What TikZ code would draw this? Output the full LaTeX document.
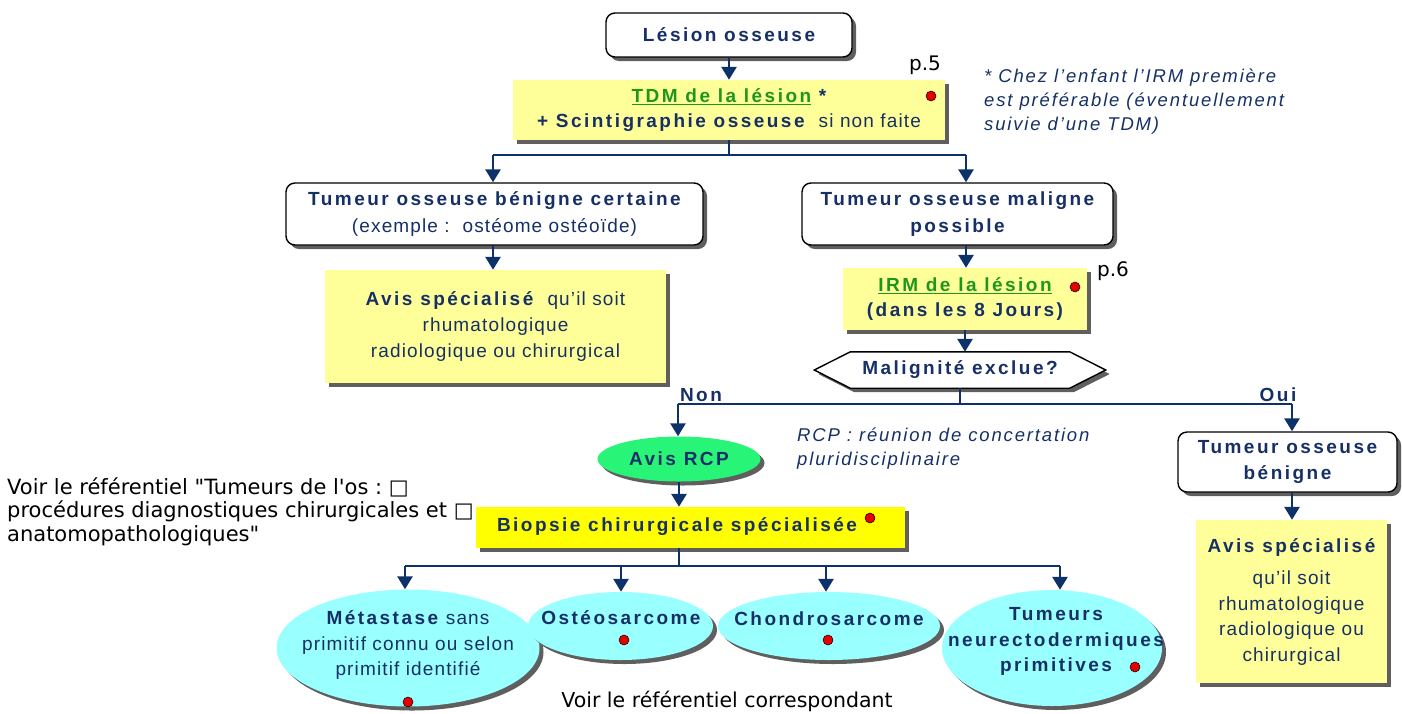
\documentclass[tikz,border=0pt]{standalone}
\usepackage{fontspec}
\setmainfont{Liberation Sans}
\newfontfamily\af[LetterSpace=6,BoldFeatures={LetterSpace=13}]{Liberation Sans}
\newfontfamily\vf[Ligatures=TeXOff]{DejaVu Sans}
\usetikzlibrary{arrows.meta,shadows,shapes.geometric}
\pgfdeclarelayer{bg}
\pgfsetlayers{bg,main}
\definecolor{navy}{RGB}{22,48,102}
\definecolor{linec}{RGB}{12,50,105}
\definecolor{dgreen}{RGB}{30,150,30}
\definecolor{pyellow}{RGB}{255,255,153}
\definecolor{byellow}{RGB}{255,255,0}
\definecolor{cyanf}{RGB}{153,255,255}
\definecolor{rgreen}{RGB}{40,245,120}
\definecolor{shadowc}{RGB}{95,95,95}
\definecolor{dotred}{RGB}{230,0,0}
\newcommand\fs{\fontsize{19}{25.5}\selectfont}
\begin{document}
\begin{tikzpicture}[x=1pt,y=-1pt,
  shadowed/.style={general shadow={fill=shadowc, shadow xshift=4pt, shadow yshift=-4pt}},
  txt/.style={font=\af\fs, text=navy, align=center, inner sep=0pt},
  bt/.style={font=\af\bfseries\fs, text=navy, align=center, inner sep=0pt},
  rbox/.style={draw=black, line width=1.4pt, rounded corners=9pt, fill=white, shadowed},
  ybox/.style={fill=pyellow, shadowed},
  ell/.style={ellipse, fill=cyanf, shadowed, inner sep=0pt},
  arr/.style={draw=linec, line width=2.8pt, -{Triangle[width=15pt,length=13pt]}},
  ln/.style={draw=linec, line width=2.8pt},
  rdot/.style={circle, fill=dotred, draw=black, line width=0.5pt, minimum size=10pt, inner sep=0pt},
  pnum/.style={font=\vf\fontsize{20}{22}\selectfont, text=black, inner sep=0pt},
  note/.style={font=\af\itshape\fontsize{18.5}{24}\selectfont\addfontfeature{LetterSpace=10}, text=navy, align=left, inner sep=0pt},
  vtext/.style={font=\vf\fontsize{20.5}{23.5}\selectfont, text=black, inner sep=0pt}
]
\useasboundingbox (0,0) rectangle (1402,713);

% top
\node[rbox, minimum width=246pt, minimum height=44pt, bt] (lesion) at (729,35) {Lésion osseuse};
\node[ybox, minimum width=432pt, minimum height=60pt, bt] (tdm) at (729,110)
  {\textcolor{dgreen}{\underline{TDM de la lésion}} *\\+ Scintigraphie osseuse {\mdseries\ si non faite}};
\node[rdot] (d1) at (931,96) {};
\node[pnum] (p5) at (925,65) {p.5};
\node[note, anchor=north west] (n1) at (984,69)
  {* Chez l’enfant l’IRM première\\est préférable (éventuellement\\suivie d’une TDM)};

\coordinate (j1) at (729,155);
\coordinate (jl) at (493,155);
\coordinate (jr) at (966,155);
\draw[arr] (lesion.south) -- (tdm.north);
\draw[ln] (tdm.south) -- (j1);
\draw[ln] (jl) -- (jr);

% left branch
\node[rbox, minimum width=417pt, minimum height=62pt, bt] (benc) at (494.5,214)
  {Tumeur osseuse bénigne certaine\\[1pt]{\mdseries (exemple :\ \ ostéome ostéoïde)}};
\node[ybox, minimum width=341pt, minimum height=113pt, bt] (avis1) at (495.5,326.5)
  {Avis spécialisé {\mdseries\ qu’il soit}\\[0.5pt]{\mdseries rhumatologique}\\[0.5pt]{\mdseries radiologique ou chirurgical}};
\draw[arr] (jl) -- (jl |- benc.north);
\draw[arr] (jl |- benc.south) -- (jl |- avis1.north);

% right branch
\node[rbox, minimum width=311pt, minimum height=62pt, bt] (malp) at (957.5,214)
  {Tumeur osseuse maligne\\[1pt]possible};
\node[ybox, minimum width=244pt, minimum height=62pt, bt] (irm) at (965,299)
  {\textcolor{dgreen}{\underline{IRM de la lésion}}\\(dans les 8 Jours)};
\node[rdot] (d2) at (1075,287) {};
\node[pnum] (p6) at (1113,271) {p.6};
\draw[arr] (jr) -- (jr |- malp.north);
\draw[arr] (jr |- malp.south) -- (jr |- irm.north);

% hexagon decision
\node[bt, minimum width=291pt, minimum height=36pt] (hex) at (960,370)
  {\addfontfeature{LetterSpace=10}Malignité exclue?};
\begin{pgfonlayer}{bg}
\path[draw=black, line width=1.4pt, fill=white, shadowed]
  (hex.west) -- ([xshift=36pt]hex.north west) -- ([xshift=-36pt]hex.north east)
  -- (hex.east) -- ([xshift=-36pt]hex.south east) -- ([xshift=36pt]hex.south west) -- cycle;
\end{pgfonlayer}
\draw[arr] (irm.south) -- (irm.south |- hex.north);

\coordinate (jNon) at (678,404);
\coordinate (jOui) at (1292,404);
\draw[ln] (hex.south) -- (hex.south |- jNon);
\draw[ln] (jNon) -- (jOui);
\node[bt] (non) at (701,395) {\addfontfeature{LetterSpace=3}Non};
\node[bt] (oui) at (1278,395) {\addfontfeature{LetterSpace=3}Oui};

% Non branch
\node[ell, fill=rgreen, minimum width=163pt, minimum height=45pt, bt] (rcp) at (679,459) {Avis RCP};
\draw[arr] (jNon) -- (jNon |- rcp.north);
\node[note, anchor=north west] (rcpn) at (797,428)
  {RCP : réunion de concertation\\pluridisciplinaire};

\node[fill=byellow, shadowed, minimum width=429pt, minimum height=41pt] (bio) at (690.5,527.5) {};
\node[bt] (biot) at (677,527) {\addfontfeature{LetterSpace=10}Biopsie chirurgicale spécialisée};
\node[rdot] (d3) at (870,518) {};
\draw[arr] (rcp.south) -- (rcp.south |- bio.north);

\coordinate (jB) at (679,566);
\coordinate (b1) at (405,566);
\coordinate (b2) at (621,566);
\coordinate (b3) at (826,566);
\coordinate (b4) at (1060,566);
\draw[ln] (rcp.south |- bio.south) -- (jB);
\draw[ln] (b1) -- (b4);

\node[ell, minimum width=263pt, minimum height=117pt] (meta) at (408,648) {};
\node[bt] (metat) at (408,645)
  {Métastase {\mdseries sans}\\{\mdseries primitif connu ou selon}\\{\mdseries primitif identifié}};
\node[rdot] (d4) at (408,702) {};

\node[ell, minimum width=185pt, minimum height=68pt] (osteo) at (620.5,626) {};
\node[bt] (osteot) at (621,618) {Ostéosarcome};
\node[rdot] (d5) at (624,640) {};

\node[ell, minimum width=222pt, minimum height=68pt] (chondro) at (829,626) {};
\node[bt] (chondrot) at (829,619) {Chondrosarcome};
\node[rdot] (d6) at (828,640) {};

\node[ell, minimum width=220pt, minimum height=116pt] (tnep) at (1052,648) {};
\node[bt] (tnept) at (1056,641.5) {Tumeurs\\neurectodermiques\\primitives};
\node[rdot] (d7) at (1135,667) {};

\draw[arr] (b1) -- (b1 |- meta.north);
\draw[arr] (b2) -- (b2 |- osteo.north);
\draw[arr] (b3) -- (b3 |- chondro.north);
\draw[arr] (b4) -- (b4 |- tnep.north);

% Oui branch
\node[rbox, minimum width=219pt, minimum height=60pt, bt] (tob) at (1287.5,462)
  {Tumeur osseuse\\[1pt]bénigne};
\node[ybox, minimum width=191pt, minimum height=163pt, bt] (avis2) at (1291.5,601.5)
  {Avis spécialisé\\[7pt]{\mdseries qu’il soit}\\{\mdseries rhumatologique}\\{\mdseries radiologique ou}\\{\mdseries chirurgical}};
\draw[arr] (jOui) -- (jOui |- tob.north);
\draw[arr] (jOui |- tob.south) -- (jOui |- avis2.north);

% black notes
\node[vtext, font=\vf\fontsize{21}{23.5}\selectfont, anchor=north west, align=left] (voir1) at (7,477)
  {Voir le référentiel "Tumeurs de l'os :\ □\\procédures diagnostiques chirurgicales et □\\anatomopathologiques"};
\node[vtext] (voir2) at (727,701) {Voir le référentiel correspondant};
\end{tikzpicture}
\end{document}
